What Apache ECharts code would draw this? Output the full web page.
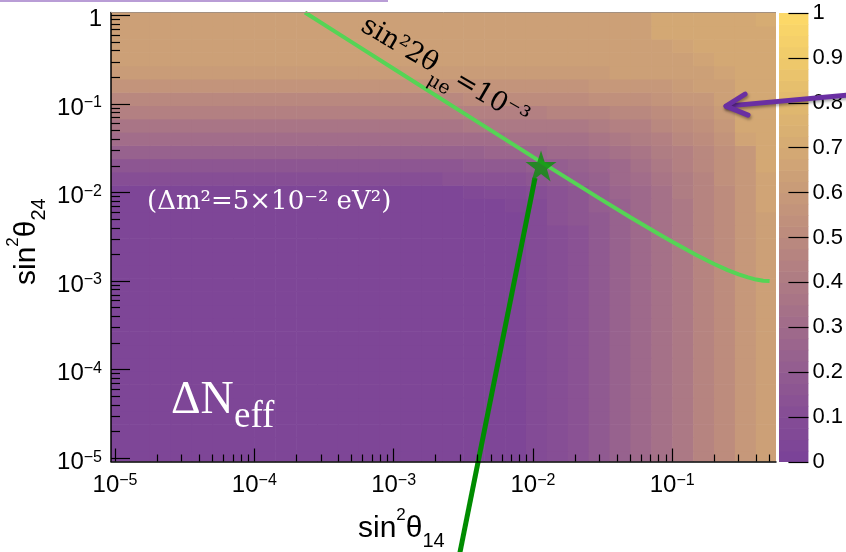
<!DOCTYPE html>
<html><head><meta charset="utf-8">
<script src="https://cdn.jsdelivr.net/npm/echarts@6/dist/echarts.min.js"></script>
<style>html,body{margin:0;padding:0;background:#fff}#c{width:846px;height:552px}</style>
</head><body><div id="c"></div>
<script>
// ---------------- data ----------------
// histogram binning (log10 of sin^2 theta14 / sin^2 theta24)
const xBinStart = -5.05, xBinWidth = 0.15, xBinCount = 32;
const yBinStart = -5.066, yBinWidth = 0.15, yBinCount = 34;
// Delta N_eff in percent, rows from bottom (small sin^2 theta24) to top, columns left to right
const dNeffPct = [
[3,3,3,3,3,3,3,3,3,3,3,3,3,3,3,3,3,3,3,4,8,12,15,19,23,29,34,40,46,52,58,64],
[3,3,3,3,3,3,3,3,3,3,3,3,3,3,3,3,3,3,3,4,8,12,15,19,23,29,34,40,46,52,58,64],
[3,3,3,3,3,3,3,3,3,3,3,3,3,3,3,3,3,3,3,4,8,12,15,19,23,29,34,40,46,52,58,64],
[3,3,3,3,3,3,3,3,3,3,3,3,3,3,3,3,3,3,3,4,8,12,15,19,23,29,34,40,46,52,58,64],
[3,3,3,3,3,3,3,3,3,3,3,3,3,3,3,3,3,3,3,4,8,12,15,19,23,29,34,40,46,52,58,64],
[3,3,3,3,3,3,3,3,3,3,3,3,3,3,3,3,3,3,3,4,8,12,15,19,23,29,34,40,46,52,58,64],
[3,3,3,3,3,3,3,3,3,3,3,3,3,3,3,3,3,3,3,4,8,12,15,19,23,29,34,40,46,52,58,64],
[3,3,3,3,3,3,3,3,3,3,3,3,3,3,3,3,3,3,3,4,8,12,15,19,23,29,34,40,46,52,58,64],
[3,3,3,3,3,3,3,3,3,3,3,3,3,3,3,3,3,3,3,4,8,12,15,19,23,29,34,40,46,52,58,64],
[3,3,3,3,3,3,3,3,3,3,3,3,3,3,3,3,3,3,3,4,8,12,15,19,23,29,34,40,46,52,58,64],
[3,3,3,3,3,3,3,3,3,3,3,3,3,3,3,3,3,3,3,4,8,12,15,19,23,29,34,40,46,52,58,64],
[3,3,3,3,3,3,3,3,3,3,3,3,3,3,3,3,3,3,3,4,8,12,15,19,23,29,34,40,46,52,58,64],
[3,3,3,3,3,3,3,3,3,3,3,3,3,3,3,3,3,3,3,4,8,12,15,19,23,29,34,40,46,52,58,64],
[3,3,3,3,3,3,3,3,3,3,3,3,3,3,3,3,3,3,3,4,8,12,15,19,23,29,34,40,46,52,58,64],
[3,3,3,3,3,3,3,3,3,3,3,3,3,3,3,3,3,3,3,4,8,12,15,19,23,29,34,40,46,52,58,64],
[3,3,3,3,3,3,3,3,3,3,3,3,3,3,3,3,3,3,3,4,8,12,15,19,23,29,34,40,46,52,58,64],
[3,3,3,3,3,3,3,3,3,3,3,3,3,3,3,3,3,3,3,4,8,12,15,19,23,29,34,40,46,52,58,64],
[3,3,3,3,3,3,3,3,3,3,3,3,3,3,3,3,3,3,3,4,8,12,15,19,23,29,34,40,46,52,58,64],
[3,3,3,3,3,3,3,3,3,3,3,3,3,3,3,3,3,3,3,5,9,13,16,19,23,29,34,40,46,52,58,64],
[3,3,3,3,3,3,3,3,3,3,3,3,3,3,3,3,3,3,4,7,10,14,16,20,24,29,34,40,46,52,58,66],
[3,3,3,3,3,3,3,3,3,3,3,3,3,3,3,3,3,6,8,10,12,15,17,21,25,30,35,41,47,52,58,66],
[11,11,11,11,11,11,11,11,11,11,11,11,11,12,12,12,13,13,14,15,17,18,21,23,28,32,37,42,47,53,59,66],
[16,16,16,16,16,16,16,16,16,16,16,16,16,16,16,17,17,18,18,19,20,22,24,27,30,34,38,43,48,54,59,68],
[23,23,23,23,23,23,23,23,23,23,23,23,23,23,23,24,24,24,25,26,27,28,30,31,34,37,41,45,50,55,60,68],
[31,31,31,31,31,31,31,31,31,31,31,31,31,31,31,31,31,32,32,33,33,34,35,37,39,41,44,48,52,56,66,68],
[37,37,37,37,37,37,37,37,37,37,37,37,37,37,37,37,37,38,38,38,39,39,40,41,43,45,48,51,54,58,69,70],
[44,44,44,44,44,44,44,44,44,44,44,44,44,44,44,44,44,44,45,45,45,46,46,47,48,50,52,54,57,61,69,70],
[50,50,50,50,50,50,50,50,50,50,50,50,50,50,50,50,50,51,51,51,51,52,52,53,53,54,56,58,60,63,69,70],
[56,56,56,56,56,56,56,56,56,56,56,56,56,56,56,56,56,56,56,57,57,57,57,58,58,59,60,62,63,63,69,70],
[61,61,61,61,61,61,61,61,61,61,61,61,61,61,61,61,61,61,61,61,62,62,62,62,63,63,64,64,64,66,69,70],
[64,64,64,64,64,64,64,64,64,64,64,64,64,64,64,64,64,64,64,64,64,64,64,64,64,64,64,64,66,69,69,70],
[64,64,64,64,64,64,64,64,64,64,64,64,64,64,64,64,64,64,64,64,64,64,64,64,64,64,65,66,68,69,69,70],
[64,64,64,64,64,64,64,64,64,64,64,64,64,64,64,64,64,64,64,64,64,64,64,64,64,64,69,69,69,69,70,70],
[64,64,64,64,64,64,64,64,64,64,64,64,64,64,64,64,64,64,64,64,64,64,64,64,64,64,69,69,70,70,70,71]
];
// sin^2 2theta_mue = 1e-3 curve
const greenX = [2.31e-4, 5e-4, 1e-3, 3e-3, 1e-2, 3e-2, 5e-2, 8e-2, 0.1, 0.15, 0.2, 0.25, 0.3, 0.35, 0.4, 0.45, 0.5];
const greenY = [1.081, 0.500, 0.250, 0.0836, 0.0253, 0.00859, 0.00526, 0.00340, 0.00278, 0.00196, 0.00156, 0.00133, 0.00119, 0.00110, 0.00104, 0.00101, 0.00100];
// benchmark point (star) and pointer line
const starX = [0.01143], starY = [0.01995];
const pointerX = [0.01035, 0.00292], pointerY = [0.01458, 7.1e-7];
// purple arrow (annotation, in data coordinates)
const arrowShaftX = [2.0, 0.2433], arrowShaftY = [0.128, 0.0947];
const arrowHeadX = [0.3334, 0.2433, 0.350], arrowHeadY = [0.1293, 0.0947, 0.0749];
// axes
const xRangeExp = [-5.029, -0.255], yRangeExp = [-5.038, 0.034];
const xMajorExp = [-5, -4, -3, -2, -1];
const xTickLabels = ['{n|10}{sup|−5}', '{n|10}{sup|−4}', '{n|10}{sup|−3}', '{n|10}{sup|−2}', '{n|10}{sup|−1}'];
const yMajorExp = [-5, -4, -3, -2, -1, 0];
const yTickLabels = ['{n|10}{sup|−5}', '{n|10}{sup|−4}', '{n|10}{sup|−3}', '{n|10}{sup|−2}', '{n|10}{sup|−1}', '{n|1}'];
const colorbarTicks = [0, 0.1, 0.2, 0.3, 0.4, 0.5, 0.6, 0.7, 0.8, 0.9, 1];
const colorbarTickLabels = ['0', '0.1', '0.2', '0.3', '0.4', '0.5', '0.6', '0.7', '0.8', '0.9', '1'];
const colorLevels = 40;
const palette = ['#7b4398','#864e95','#935d90','#a16c8a','#ae7b84','#bb8a7e','#c79a79','#d4a974','#e0b86f','#eec86b','#fcd868'];

// ---------------- build ----------------
const xEdges = [], yEdges = [];
for (let k = 0; k <= xBinCount; k++) xEdges.push(xBinStart + k * xBinWidth);
for (let k = 0; k <= yBinCount; k++) yEdges.push(yBinStart + k * yBinWidth);
const cells = [];
for (let j = 0; j < yBinCount; j++) for (let i = 0; i < xBinCount; i++) {
  cells.push([Math.pow(10, xEdges[i]), Math.pow(10, xEdges[i + 1]), Math.pow(10, yEdges[j]), Math.pow(10, yEdges[j + 1]), dNeffPct[j][i] / 100]);
}
// colour-bar bands (one per palette level)
const bands = [];
for (let k = 0; k < colorLevels; k++) bands.push([0, 1, k / colorLevels, (k + 1) / colorLevels, (k + 0.5) / colorLevels]);

function minorExps(lo, hi) {
  const out = [];
  for (let n = -7; n <= 1; n++) for (let k = 2; k <= 9; k++) { const e = n + Math.log10(k); if (e > lo && e < hi) out.push(e); }
  return out;
}
const zip = (xs, ys) => xs.map((x, k) => [x, ys[k]]);
function labelFrom(values, labels) {
  return v => { const k = values.findIndex(t => Math.abs(t - v) < 1e-6); return k >= 0 ? labels[k] : ''; };
}
const plotRect = { left: 111, top: 12.5, width: 665, height: 449 };
const SANS = 'Liberation Sans';
const tickLine = { color: '#000', width: 1.2 };
const tickRich = {
  n: { fontFamily: SANS, fontSize: 24, lineHeight: 26, verticalAlign: 'middle', color: '#000' },
  sup: { fontFamily: SANS, fontSize: 16, lineHeight: 14, verticalAlign: 'top', color: '#000' }
};

function renderCell(params, api) {
  const a = api.coord([api.value(0), api.value(3)]);
  const b = api.coord([api.value(1), api.value(2)]);
  const cs = params.coordSys;
  const r = echarts.graphic.clipRectByRect(
    { x: a[0], y: a[1], width: b[0] - a[0] + 0.6, height: b[1] - a[1] + 0.6 },
    { x: cs.x, y: cs.y, width: cs.width, height: cs.height });
  if (!r) return;
  return { type: 'rect', shape: r, style: { fill: api.visual('color') } };
}

const titleRich = {
  m: { fontFamily: SANS, fontSize: 30, lineHeight: 44, verticalAlign: 'middle', fill: '#000' },
  p: { fontFamily: SANS, fontSize: 17, lineHeight: 22, verticalAlign: 'top', fill: '#000' },
  b: { fontFamily: SANS, fontSize: 20, lineHeight: 17, verticalAlign: 'bottom', fill: '#000' }
};
const noLine = { show: false, onZero: false };

const chart = echarts.init(document.getElementById('c'), null, { renderer: 'canvas' });
chart.setOption({
  animation: false,
  backgroundColor: '#fff',
  grid: [
    Object.assign({}, plotRect),
    Object.assign({}, plotRect),
    Object.assign({}, plotRect),
    { left: 779, top: 13, width: 39, height: 449 }
  ],
  xAxis: [
    { gridIndex: 0, type: 'log', min: Math.pow(10, xRangeExp[0]), max: Math.pow(10, xRangeExp[1]), z: 10, position: 'bottom',
      axisLine: { show: true, onZero: false, lineStyle: { color: '#000', width: 1.5 } },
      axisTick: { show: false }, axisLabel: { show: false }, splitLine: { show: false } },
    { gridIndex: 1, type: 'value', min: xRangeExp[0], max: xRangeExp[1], z: 10, position: 'bottom',
      axisLine: noLine,
      axisTick: { show: true, inside: true, length: 13, customValues: xMajorExp, lineStyle: tickLine },
      axisLabel: { show: true, customValues: xMajorExp, formatter: labelFrom(xMajorExp, xTickLabels), margin: 11, rich: tickRich },
      splitLine: { show: false } },
    { gridIndex: 2, type: 'value', min: xRangeExp[0], max: xRangeExp[1], z: 10, position: 'bottom',
      axisLine: noLine,
      axisTick: { show: true, inside: true, length: 7, customValues: minorExps(xRangeExp[0], xRangeExp[1]), lineStyle: tickLine },
      axisLabel: { show: false }, splitLine: { show: false } },
    { gridIndex: 3, type: 'value', show: false, min: 0, max: 1, axisLine: noLine }
  ],
  yAxis: [
    { gridIndex: 0, type: 'log', min: Math.pow(10, yRangeExp[0]), max: Math.pow(10, yRangeExp[1]), z: 10, position: 'left',
      axisLine: { show: true, onZero: false, lineStyle: { color: '#000', width: 1.5 } },
      axisTick: { show: false }, axisLabel: { show: false }, splitLine: { show: false } },
    { gridIndex: 1, type: 'value', min: yRangeExp[0], max: yRangeExp[1], z: 10, position: 'left',
      axisLine: noLine,
      axisTick: { show: true, inside: true, length: 19, customValues: yMajorExp, lineStyle: tickLine },
      axisLabel: { show: true, customValues: yMajorExp, formatter: labelFrom(yMajorExp, yTickLabels), margin: 9,
        padding: [8, 0, 0, 0], rich: tickRich },
      splitLine: { show: false } },
    { gridIndex: 2, type: 'value', min: yRangeExp[0], max: yRangeExp[1], z: 10, position: 'left',
      axisLine: noLine,
      axisTick: { show: true, inside: true, length: 9, customValues: minorExps(yRangeExp[0], yRangeExp[1]), lineStyle: tickLine },
      axisLabel: { show: false }, splitLine: { show: false } },
    { gridIndex: 3, type: 'value', min: 0, max: 1, interval: 0.1, position: 'right', z: 10,
      axisLine: noLine,
      axisTick: { show: true, inside: true, length: 20, lineStyle: tickLine },
      axisLabel: { show: true, margin: 4, color: '#000', fontFamily: SANS, fontSize: 22,
        formatter: labelFrom(colorbarTicks, colorbarTickLabels) },
      splitLine: { show: false } }
  ],
  visualMap: {
    type: 'piecewise', min: 0, max: 1, splitNumber: colorLevels, dimension: 4, seriesIndex: [0, 4],
    inRange: { color: palette }, show: false
  },
  series: [
    { type: 'custom', name: 'dNeff', xAxisIndex: 0, yAxisIndex: 0, data: cells, renderItem: renderCell,
      encode: { x: [0, 1], y: [2, 3] }, z: 1, silent: true },
    { type: 'line', xAxisIndex: 0, yAxisIndex: 0, data: zip(greenX, greenY), symbol: 'none', smooth: false,
      lineStyle: { color: '#55d455', width: 4 }, z: 3, silent: true },
    { type: 'line', xAxisIndex: 0, yAxisIndex: 0, data: zip(pointerX, pointerY), symbol: 'none', clip: false,
      lineStyle: { color: '#008c00', width: 5 }, z: 4, silent: true },
    { type: 'scatter', xAxisIndex: 0, yAxisIndex: 0, data: zip(starX, starY), clip: false,
      symbol: 'path://M50,0 L61.8,35.4 L100,35.4 L69.1,57.3 L80.9,95.1 L50,72.4 L19.1,95.1 L30.9,57.3 L0,35.4 L38.2,35.4 Z',
      symbolSize: 31, itemStyle: { color: '#0b900b' }, z: 5, silent: true },
    { type: 'custom', name: 'colorbar', xAxisIndex: 3, yAxisIndex: 3, data: bands, renderItem: renderCell,
      encode: { x: [0, 1], y: [2, 3] }, z: 1, silent: true }
  ],
  graphic: [
    { id: 'topline', type: 'rect', z: 50, shape: { x: 0, y: 0, width: 388, height: 2 }, style: { fill: '#b99dd6' } },
    { id: 'frameTop', type: 'line', z: 50, shape: { x1: 111, y1: 12.5, x2: 776, y2: 12.5 }, style: { stroke: '#a39080', lineWidth: 1 } },
    { id: 'xtitle', type: 'text', z: 50, x: 358, y: 529,
      style: { text: '{m|sin}{p|2}{m|θ}{b|14}', align: 'left', verticalAlign: 'middle', rich: titleRich } },
    { id: 'ytitle', type: 'text', z: 50, x: 27, y: 285, rotation: Math.PI / 2,
      style: { text: '{m|sin}{p|2}{m|θ}{b|24}', align: 'left', verticalAlign: 'middle', rich: titleRich } },
    { id: 'dn', type: 'text', z: 50, x: 171, y: 401,
      style: { text: 'ΔN', fontFamily: 'Liberation Serif', fontSize: 46, fill: '#fff', align: 'left', verticalAlign: 'middle' } },
    { id: 'eff', type: 'text', z: 50, x: 234, y: 417,
      style: { text: 'eff', fontFamily: 'Liberation Serif', fontSize: 37, fill: '#fff', align: 'left', verticalAlign: 'middle' } },
    { id: 'dm2', type: 'text', z: 50, x: 147, y: 202,
      style: { text: '(Δm²=5×10⁻² eV²)', fontFamily: 'DejaVu Serif', fontSize: 26, fill: '#fff', align: 'left', verticalAlign: 'middle' } },
    { id: 'mue', type: 'text', z: 50, x: 363, y: 24, rotation: -0.53,
      style: { text: '{a|sin²2θ}{b|μe}{a|=10⁻³}', align: 'left', verticalAlign: 'middle',
        rich: {
          a: { fontFamily: 'DejaVu Serif', fontSize: 27, lineHeight: 48, verticalAlign: 'middle', fill: '#000' },
          b: { fontFamily: 'DejaVu Serif', fontSize: 19, lineHeight: 18, verticalAlign: 'bottom', fill: '#000' }
        } } }
  ]
});

// purple arrow annotation, placed through the axes' own scales
const toPx = (x, y) => chart.convertToPixel({ xAxisIndex: 0, yAxisIndex: 0 }, [x, y]);
const arrowStyle = { stroke: '#6a2fa2', lineWidth: 5, fill: null, lineCap: 'round', lineJoin: 'round',
  shadowBlur: 3, shadowColor: 'rgba(0,0,0,0.35)', shadowOffsetX: 1, shadowOffsetY: 2 };
chart.setOption({
  graphic: [
    { id: 'arrowShaft', type: 'polyline', z: 100, shape: { points: zip(arrowShaftX, arrowShaftY).map(p => toPx(p[0], p[1])) }, style: arrowStyle },
    { id: 'arrowHead', type: 'polyline', z: 100, shape: { points: zip(arrowHeadX, arrowHeadY).map(p => toPx(p[0], p[1])) }, style: arrowStyle }
  ]
});
</script></body></html>
